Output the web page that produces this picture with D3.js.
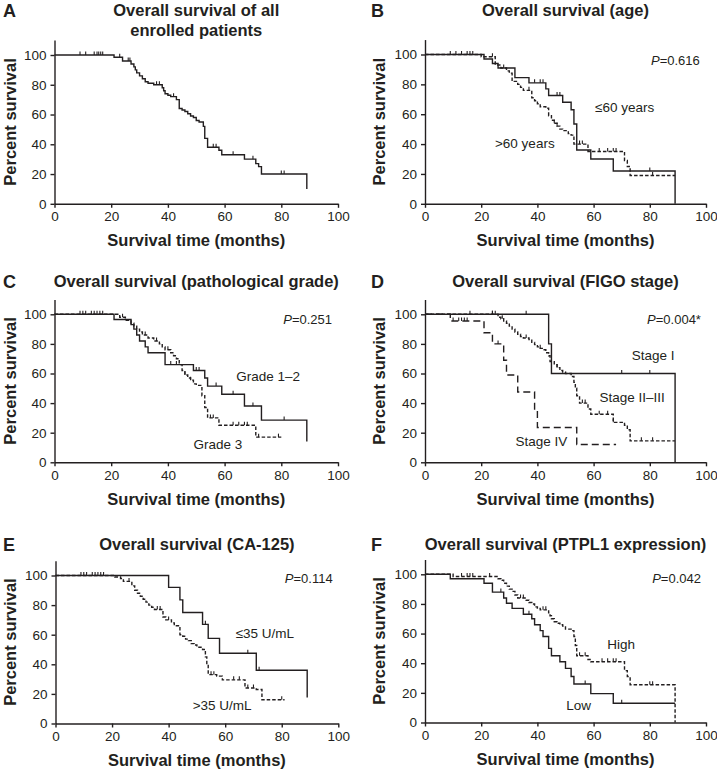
<!DOCTYPE html>
<html><head><meta charset="utf-8">
<script src="https://cdn.jsdelivr.net/npm/d3@7"></script>
<style>body{margin:0;background:#fff}text{fill:#231f20}</style>
</head><body><svg id="c" width="717" height="769"></svg>
<script>
// ---------- DATA ----------
const xTicks = [0, 20, 40, 60, 80, 100];
const yTicks = [0, 20, 40, 60, 80, 100];

// A: all patients
const aTimes = [0,21,24,27,28,28.5,29,30,31,32,33,35,38,38.5,39,40,41,43,44,45,46,47,48,49,50,51,52.5,53,54,58,59,67,71,72,73,89];
const aSurv  = [100,98.5,96,94,92,90,88,86,84,82,81,80,78,76,74,73,72,70,64,63,62,60.5,59,58,56,55,52,44,38,36,33,30,27,25,20,10];
const aCens  = [9,11,14,15,15.6,16.3,17,23,26,26.6,36,37,42,56,57,63,70,80,81];

// B: age
const bLeTimes = [0,21,24,26,32,37,43,44,49,52,53,54,59,67,89];
const bLeSurv  = [100,97,94,91,84.5,81,77,72.5,68,63,53.5,36,30,22,0];
const bLeCens  = [39,41,42,47,48,80];
const bGtTimes = [0,20,25,27,29,30,31,33,34,35,38,39,40,41,43,44,45,46,47,48,49,51,52,53,58,71,72,73,89];
const bGtSurv  = [100,98.5,93,91,89,87.5,82,80,78,76,71,69,67,65,64,59,56,54,52,50,49,47,46,40,35,29,25,19,19];
const bGtCens  = [9,11,13,15,16,17,24,28,37,46,47,55,56,62,65,67,68,81];

// C: pathological grade
const cG12Times = [0,21,27,28,29,30,32,33,39,49,53,54,59,67,73,89];
const cG12Surv  = [100,96.5,93,90,86,82,78,74,66,62,57,51.5,46,38,28.5,14];
const cG12Cens  = [41,43,50,51,57,63,70,81];
const cG3Times  = [0,23,25,27,28,29,30,31,33,35,37,38,39,41,42,43,44,45,46,47,48,49,50,52,53,54,58,71,80];
const cG3Surv   = [100,98,96,94,92,90,88,86,84,82,80,78,76,74,72,70,66,62,59,57,55.5,53,52,45,37,30,25,17,17];
const cG3Cens   = [9,10,11,13,14,15,16,17,24,32,36,40,46,48,55,56,63,65,67,68,72,79];

// D: FIGO stage
const dITimes   = [0,44,45,89];
const dISurv    = [100,80,60,0];
const dICens    = [16,24,36,70,80];
const dIITimes  = [0,26,27,28,29,30,31,32,33,34,35,37,38,39,40,41,42,43,44,44.5,46,47,48,49,50,52,53,53.5,54,55,58,59,67,71,72,73,89];
const dIISurv   = [100,98,97,95.5,94,92,90,88,86.5,85,84,83,81,79.5,78,77,76,74,72,68,66,64,62,61,60,58,54,50,45,40,36,32.5,27,25,22,14.5,14.5];
const dIICens   = [24,25,27.5,36,41,47,56,57,62,65,67,77,81];
const dIVTimes  = [0,9,21,24,28,29,33,39,40,54,68];
const dIVSurv   = [100,95.5,87.5,80,69,59,47.5,35,23.5,12,12];
const dIVCens   = [10,12,13,14,15,26];

// E: CA-125
const eLeTimes = [0,40,44,45,52,54,58,71,89];
const eLeSurv  = [100,92,83.5,75,67,57.5,47.5,36,17.5];
const eLeCens  = [53,68,72];
const eGtTimes = [0,21,23,24,27,28,29,30,31,32,33,34,35,38,39,41,42,44,45,46,47,48,49,50,52,53,53.5,54,57,59,67,71,73,81];
const eGtSurv  = [100,99,98,96,93,90,88,86,84,82,80,78.5,77,72,70,68,66,60,59,57,56,54,53,51.5,50,45,40,33,32,29.5,24,23,16,16];
const eGtCens  = [9,10,11,13,14,15,16,17,26,36,37,40,55,56,63,65,68,70,80];

// F: PTPL1 expression
const fHiTimes = [0,10,26,27,28,29,30,31,32,33,36,37,38,39,40,41,44,44.5,45,46,47,48,49,50,52,53,53.5,54,58,59,71,72,73,89];
const fHiSurv  = [100,98.5,97,96,94,92,90,88.5,86,84,82.5,81,80,78,77,76,74,72,70,68,67,66,65,63,62,58,52,45,42.5,41,35,31,25.5,0];
const fHiCens  = [13,15,16,17,23,34,35,42,43,55,57,63,65,67,68,80,81];
const fLoTimes = [0,9,21,24,28,29,31,35,38,39,41,42,44,45,48,50,52,53,59,67,89];
const fLoSurv  = [100,97,94,88,84,80.5,77,73,70,66,62,58,50,45,41,36.5,31,26,19.5,13,13];
const fLoCens  = [27,37,57,70];

// ---------- LAYOUT ----------
const INK = "#231f20";
const FONT = "'Liberation Sans', Arial, Helvetica, sans-serif";
const SOLID = null, SHORT = "3.5,2", LONG = "7,4";

const panels = [
  {letter:"A", lx:3, x0:54.5, x1:338, y0:203.8, y100:55, title:["Overall survival of all","enrolled patients"], ty:15.5, ylabX:16,
   curves:[{t:aTimes,s:aSurv,c:aCens,d:SOLID}], p:null, labels:[]},
  {letter:"B", lx:371, x0:425, x1:706, y0:203.8, y100:54.5, title:["Overall survival (age)"], ty:15.5, ylabX:385,
   curves:[{t:bGtTimes,s:bGtSurv,c:bGtCens,d:SHORT},{t:bLeTimes,s:bLeSurv,c:bLeCens,d:SOLID}],
   p:"0.616", pxy:[97.8,93], labels:[["≤60 years",60.5,65],[">60 years",24.9,40.5]]},
  {letter:"C", lx:3, x0:54.5, x1:338, y0:462.3, y100:314.3, title:["Overall survival (pathological grade)"], ty:287, ylabX:16,
   curves:[{t:cG3Times,s:cG3Surv,c:cG3Cens,d:SHORT},{t:cG12Times,s:cG12Surv,c:cG12Cens,d:SOLID}],
   p:"0.251", pxy:[97.9,93.4], labels:[["Grade 1–2",64.1,58],["Grade 3",49,12.3]]},
  {letter:"D", lx:371, x0:425, x1:706, y0:462.3, y100:314.3, title:["Overall survival (FIGO stage)"], ty:287, ylabX:385,
   curves:[{t:dIITimes,s:dIISurv,c:dIICens,d:SHORT},{t:dIVTimes,s:dIVSurv,c:dIVCens,d:LONG},{t:dITimes,s:dISurv,c:dICens,d:SOLID}],
   p:"0.004*", pxy:[98.2,93.4], labels:[["Stage I",73.6,72.2],["Stage II–III",62.1,44],["Stage IV",32.2,14.5]]},
  {letter:"E", lx:3, x0:55.5, x1:338.3, y0:723.5, y100:575.5, title:["Overall survival (CA-125)"], ty:550, ylabX:16,
   curves:[{t:eGtTimes,s:eGtSurv,c:eGtCens,d:SHORT},{t:eLeTimes,s:eLeSurv,c:eLeCens,d:SOLID}],
   p:"0.114", pxy:[98,94.7], labels:[["≤35 U/mL",63.7,61.4],[">35 U/mL",48.5,12.5]]},
  {letter:"F", lx:371, x0:425, x1:706, y0:722.5, y100:574.3, title:["Overall survival (PTPL1 expression)"], ty:550, ylabX:385,
   curves:[{t:fHiTimes,s:fHiSurv,c:fHiCens,d:SHORT},{t:fLoTimes,s:fLoSurv,c:fLoCens,d:SOLID}],
   p:"0.042", pxy:[98.2,93.8], labels:[["High",64.9,52.9],["Low",50.3,11.8]]}
];

const svg = d3.select("#c");

function survAt(times, surv, t){
  let v = surv[0];
  for (let i = 0; i < times.length; i++) { if (times[i] <= t) v = surv[i]; }
  return v;
}

panels.forEach(P => {
  const g = svg.append("g");
  const x = d3.scaleLinear().domain([0,100]).range([P.x0, P.x1]);
  const y = d3.scaleLinear().domain([0,100]).range([P.y0, P.y100]);
  const yTop = y(110);

  // panel letter
  g.append("text").attr("x", P.lx).attr("y", P.ty + 1)
    .style("font", `bold 18px ${FONT}`).text(P.letter);

  // title
  const cx = (P.x0 + P.x1) / 2;
  P.title.forEach((line, i) => {
    g.append("text").attr("x", cx).attr("y", P.ty + i * 20)
      .attr("text-anchor", "middle").style("font", `bold 16.5px ${FONT}`).text(line);
  });

  // axes
  const xAxis = d3.axisBottom(x).tickValues(xTicks).tickSize(4).tickSizeOuter(0).tickPadding(4);
  const gx = g.append("g").attr("transform", `translate(0,${P.y0})`).call(xAxis);
  const yScaleFull = d3.scaleLinear().domain([0,110]).range([P.y0, yTop]);
  const yAxis = d3.axisLeft(yScaleFull).tickValues(yTicks).tickSize(4).tickSizeOuter(0).tickPadding(4);
  const gy = g.append("g").attr("transform", `translate(${P.x0},0)`).call(yAxis);
  [gx, gy].forEach(a => {
    a.select(".domain").attr("stroke", INK).attr("stroke-width", 1.4);
    a.selectAll(".tick line").attr("stroke", INK).attr("stroke-width", 1.4);
    a.selectAll(".tick text").style("font", `13.5px ${FONT}`).attr("fill", INK);
  });

  // axis titles
  g.append("text").attr("x", cx).attr("y", P.y0 + 42.5)
    .attr("text-anchor", "middle").style("font", `bold 16.5px ${FONT}`).text("Survival time (months)");
  g.append("text").attr("transform", `translate(${P.ylabX},${(P.y0 + yTop) / 2}) rotate(-90)`)
    .attr("text-anchor", "middle").style("font", `bold 16.5px ${FONT}`).text("Percent survival");

  // curves
  const line = d3.line().x(d => x(d[0])).y(d => y(d[1])).curve(d3.curveStepAfter);
  P.curves.forEach(cv => {
    const pts = cv.t.map((t, i) => [t, cv.s[i]]);
    g.append("path").attr("d", line(pts)).attr("fill", "none")
      .attr("stroke", INK).attr("stroke-width", 1.4)
      .attr("stroke-dasharray", cv.d);
    g.selectAll(null).data(cv.c).enter().append("line")
      .attr("x1", d => x(d)).attr("x2", d => x(d))
      .attr("y1", d => y(survAt(cv.t, cv.s, d)))
      .attr("y2", d => y(survAt(cv.t, cv.s, d)) - 3.5)
      .attr("stroke", INK).attr("stroke-width", 1.1);
  });

  // p value
  if (P.p) {
    const t = g.append("text").attr("x", x(P.pxy[0])).attr("y", y(P.pxy[1]))
      .attr("text-anchor", "end").style("font", `13px ${FONT}`);
    t.append("tspan").style("font-style", "italic").text("P");
    t.append("tspan").text("=" + P.p);
  }
  P.labels.forEach(l => {
    g.append("text").attr("x", x(l[1])).attr("y", y(l[2]) + 5)
      .style("font", `13.5px ${FONT}`).text(l[0]);
  });
});
</script></body></html>
